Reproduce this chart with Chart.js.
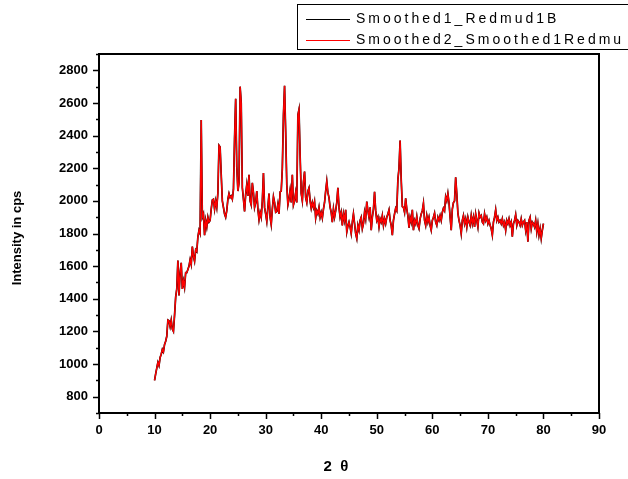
<!DOCTYPE html>
<html>
<head>
<meta charset="utf-8">
<script src="https://cdn.jsdelivr.net/npm/chart.js@4/dist/chart.umd.min.js"></script>
<style>
  html, body { margin: 0; padding: 0; background: #fff; }
  #wrap { width: 628px; height: 479px; }
</style>
</head>
<body>
<div id="wrap"><canvas id="xrd" width="628" height="479"></canvas></div>
<script>
// 2-theta scan positions (degrees)
const twoTheta = [
  10.0,10.2,10.4,10.6,10.8,11.0,11.2,11.4,11.6,11.8,
  12.0,12.2,12.4,12.6,12.8,13.0,13.2,13.4,13.6,13.8,
  14.0,14.2,14.4,14.6,14.8,15.0,15.2,15.4,15.6,15.8,
  16.0,16.2,16.4,16.6,16.8,17.0,17.2,17.4,17.6,17.8,
  18.0,18.2,18.4,18.6,18.8,19.0,19.2,19.4,19.6,19.8,
  20.0,20.2,20.4,20.6,20.8,21.0,21.2,21.4,21.6,21.8,
  22.0,22.2,22.4,22.6,22.8,23.0,23.2,23.4,23.6,23.8,
  24.0,24.2,24.4,24.6,24.8,25.0,25.2,25.4,25.6,25.8,
  26.0,26.2,26.4,26.6,26.8,27.0,27.2,27.4,27.6,27.8,
  28.0,28.2,28.4,28.6,28.8,29.0,29.2,29.4,29.6,29.8,
  30.0,30.2,30.4,30.6,30.8,31.0,31.2,31.4,31.6,31.8,
  32.0,32.2,32.4,32.6,32.8,33.0,33.2,33.4,33.6,33.8,
  34.0,34.2,34.4,34.6,34.8,35.0,35.2,35.4,35.6,35.8,
  36.0,36.2,36.4,36.6,36.8,37.0,37.2,37.4,37.6,37.8,
  38.0,38.2,38.4,38.6,38.8,39.0,39.2,39.4,39.6,39.8,
  40.0,40.2,40.4,40.6,40.8,41.0,41.2,41.4,41.6,41.8,
  42.0,42.2,42.4,42.6,42.8,43.0,43.2,43.4,43.6,43.8,
  44.0,44.2,44.4,44.6,44.8,45.0,45.2,45.4,45.6,45.8,
  46.0,46.2,46.4,46.6,46.8,47.0,47.2,47.4,47.6,47.8,
  48.0,48.2,48.4,48.6,48.8,49.0,49.2,49.4,49.6,49.8,
  50.0,50.2,50.4,50.6,50.8,51.0,51.2,51.4,51.6,51.8,
  52.0,52.2,52.4,52.6,52.8,53.0,53.2,53.4,53.6,53.8,
  54.0,54.2,54.4,54.6,54.8,55.0,55.2,55.4,55.6,55.8,
  56.0,56.2,56.4,56.6,56.8,57.0,57.2,57.4,57.6,57.8,
  58.0,58.2,58.4,58.6,58.8,59.0,59.2,59.4,59.6,59.8,
  60.0,60.2,60.4,60.6,60.8,61.0,61.2,61.4,61.6,61.8,
  62.0,62.2,62.4,62.6,62.8,63.0,63.2,63.4,63.6,63.8,
  64.0,64.2,64.4,64.6,64.8,65.0,65.2,65.4,65.6,65.8,
  66.0,66.2,66.4,66.6,66.8,67.0,67.2,67.4,67.6,67.8,
  68.0,68.2,68.4,68.6,68.8,69.0,69.2,69.4,69.6,69.8,
  70.0,70.2,70.4,70.6,70.8,71.0,71.2,71.4,71.6,71.8,
  72.0,72.2,72.4,72.6,72.8,73.0,73.2,73.4,73.6,73.8,
  74.0,74.2,74.4,74.6,74.8,75.0,75.2,75.4,75.6,75.8,
  76.0,76.2,76.4,76.6,76.8,77.0,77.2,77.4,77.6,77.8,
  78.0,78.2,78.4,78.6,78.8,79.0,79.2,79.4,79.6,79.8,
  80.0
];

// intensity in cps, one value per scan position
const intensity = [
  900,940,975,1010,990,1040,1060,1090,1075,1120,
  1140,1170,1270,1265,1230,1270,1215,1200,1300,1410,
  1460,1635,1420,1560,1620,1460,1510,1470,1560,1560,
  1580,1600,1640,1610,1720,1660,1630,1700,1690,1780,
  1820,1800,2495,1900,1920,1790,1880,1840,1900,1870,
  1880,1950,2005,2010,1950,2000,1960,2050,2340,2330,
  2160,2000,1960,1920,1900,1940,2010,2045,2020,2030,
  2010,2070,2380,2625,2210,2060,2110,2700,2600,2080,
  2010,1935,2040,2100,2030,2160,2000,1975,2110,2050,
  1960,1990,2060,1950,1885,1930,1900,2000,2170,1960,
  1920,1875,1960,2045,1900,1855,1950,2025,1990,1930,
  1935,1980,1920,2055,2060,2200,2525,2705,2420,2100,
  1975,2010,2065,1990,2160,1975,2000,2050,1990,2525,
  2560,2280,2045,2000,2115,2180,2020,1990,2060,2080,
  2000,1955,1990,1960,1995,1895,1940,1920,1960,1900,
  1930,1895,1950,1990,2060,2120,2050,2020,1960,1930,
  1870,1950,1900,1940,1990,2080,1960,1900,1930,1850,
  1920,1880,1945,1810,1845,1870,1840,1800,1870,1920,
  1860,1800,1770,1850,1820,1880,1900,1830,1860,1930,
  1890,1995,1940,1900,1960,1820,1900,1950,2055,1940,
  1880,1900,1840,1890,1870,1910,1850,1890,1860,1900,
  1920,1945,1880,1850,1790,1880,1920,1955,1940,2130,
  2200,2370,2130,1965,1960,1930,2015,1950,1910,1835,
  1900,1870,1945,1820,1880,1860,1905,1850,1830,1890,
  1920,1940,1985,1880,1850,1910,1870,1900,1850,1820,
  1880,1900,1925,1870,1850,1900,1880,1910,1880,1930,
  1955,1940,2025,2000,2045,1990,1900,1820,1950,1990,
  2000,2145,2045,1925,1880,1850,1800,1880,1910,1860,
  1890,1840,1900,1870,1850,1910,1860,1900,1840,1920,
  1880,1840,1925,1900,1910,1870,1860,1920,1880,1900,
  1860,1880,1850,1830,1790,1870,1900,1945,1880,1900,
  1870,1880,1860,1890,1850,1870,1820,1880,1860,1890,
  1850,1870,1780,1860,1880,1915,1850,1880,1870,1850,
  1890,1850,1870,1880,1820,1870,1750,1880,1900,1830,
  1870,1860,1840,1880,1810,1860,1790,1830,1770,1820,
  1860
];

const seriesNames = ['Smoothed1_Redmud1B', 'Smoothed2_Smoothed1Redmu'];
const seriesColors = ['#000000', '#ff0000'];
const xTickValues = [0, 10, 20, 30, 40, 50, 60, 70, 80, 90];
const yTickValues = [800, 1000, 1200, 1400, 1600, 1800, 2000, 2200, 2400, 2600, 2800];
const xTitle = '2  θ';
const yTitle = 'Intensity in cps';

const points = twoTheta.map((t, i) => ({ x: t, y: intensity[i] }));

// frame, minor/major ticks, axis titles and the boxed legend
const decorations = {
  id: 'decorations',
  afterDraw(chart) {
    const ctx = chart.ctx;
    const area = chart.chartArea;
    const xs = chart.scales.x, ys = chart.scales.y;
    ctx.save();
    ctx.strokeStyle = '#000';
    ctx.lineWidth = 2;
    ctx.strokeRect(area.left, area.top, area.right - area.left, area.bottom - area.top);

    ctx.lineWidth = 1.5;
    ctx.beginPath();
    for (let v = 0; v <= 90; v += 5) {
      const px = Math.round(xs.getPixelForValue(v)) + 0.5;
      const len = v % 10 === 0 ? 6 : 3;
      ctx.moveTo(px, area.bottom);
      ctx.lineTo(px, area.bottom + len);
    }
    for (let v = 700; v <= 2900; v += 100) {
      const py = Math.round(ys.getPixelForValue(v)) + 0.5;
      const len = v % 200 === 0 ? 6 : 3;
      ctx.moveTo(area.left, py);
      ctx.lineTo(area.left - len, py);
    }
    ctx.stroke();

    ctx.fillStyle = '#000';
    ctx.font = 'bold 15px "Liberation Sans", Arial, sans-serif';
    ctx.textAlign = 'center';
    ctx.textBaseline = 'middle';
    ctx.fillText(xTitle, 336, 467);

    ctx.save();
    ctx.translate(17, 238);
    ctx.rotate(-Math.PI / 2);
    ctx.font = 'bold 13px "Liberation Sans", Arial, sans-serif';
    ctx.fillText(yTitle, 0, 0);
    ctx.restore();

    // legend box runs off the right edge
    ctx.lineWidth = 1;
    ctx.strokeStyle = '#000';
    ctx.strokeRect(297.5, 4.5, 360, 45);
    const rows = [19, 40];
    ctx.font = '14px "Liberation Sans", Arial, sans-serif';
    ctx.textAlign = 'left';
    ctx.letterSpacing = '3px';
    seriesNames.forEach((name, i) => {
      ctx.strokeStyle = seriesColors[i];
      ctx.lineWidth = 1.2;
      ctx.beginPath();
      ctx.moveTo(306, rows[i] + 0.5);
      ctx.lineTo(350, rows[i] + 0.5);
      ctx.stroke();
      ctx.fillStyle = '#000';
      ctx.fillText(name, 356, rows[i]);
    });
    ctx.restore();
  }
};

const tickFont = { family: '"Liberation Sans", Arial, sans-serif', size: 13, weight: 'bold' };

new Chart(document.getElementById('xrd'), {
  type: 'line',
  data: {
    datasets: [
      {
        label: seriesNames[0],
        data: points,
        borderColor: seriesColors[0],
        borderWidth: 1.7,
        pointRadius: 0,
        tension: 0,
        order: 2
      },
      {
        label: seriesNames[1],
        data: points,
        borderColor: seriesColors[1],
        borderWidth: 1.4,
        pointRadius: 0,
        tension: 0,
        order: 1
      }
    ]
  },
  options: {
    responsive: false,
    animation: false,
    devicePixelRatio: 1,
    layout: { padding: { top: 54, right: 29, left: 0, bottom: 0 } },
    plugins: {
      legend: { display: false },
      tooltip: { enabled: false }
    },
    scales: {
      x: {
        type: 'linear',
        min: 0,
        max: 90,
        afterBuildTicks: s => { s.ticks = xTickValues.map(v => ({ value: v })); },
        afterFit: s => { s.height = 66; },
        grid: { display: false, drawTicks: false },
        border: { display: false },
        ticks: { color: '#000', font: tickFont, padding: 10, maxRotation: 0, autoSkip: false, callback: v => String(v) }
      },
      y: {
        type: 'linear',
        min: 700,
        max: 2900,
        afterBuildTicks: s => { s.ticks = yTickValues.map(v => ({ value: v })); },
        afterFit: s => { s.width = 99; },
        grid: { display: false, drawTicks: false },
        border: { display: false },
        ticks: { color: '#000', font: tickFont, padding: 11, autoSkip: false, callback: v => String(v) }
      }
    }
  },
  plugins: [decorations]
});
</script>
</body>
</html>
